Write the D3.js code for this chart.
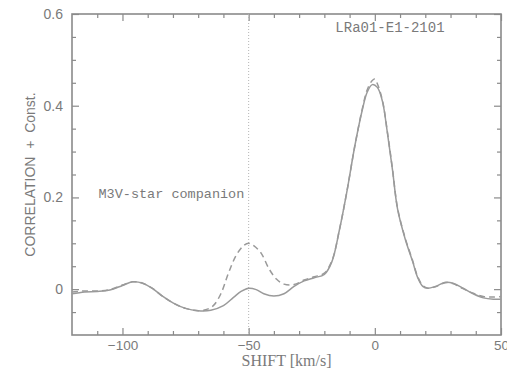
<!DOCTYPE html>
<html>
<head>
<meta charset="utf-8">
<script src="https://cdn.jsdelivr.net/npm/d3@7"></script>
<style>
  body { margin: 0; background: #fff; }
  text { fill: #7a7a7a; }
</style>
</head>
<body>
<svg id="chart" width="507" height="371"></svg>
<script>
// shift values (km/s) and correlation
const shiftSolid = [-120, -115, -110, -105, -100, -96, -92, -88, -84, -80, -75, -70, -65, -60, -56, -53, -50, -47, -44, -40, -36, -32, -28, -24, -20, -17, -14, -11, -8, -5, -3, -1, 1, 3, 5, 7, 9, 12, 15, 17, 19, 21, 24, 28, 31, 35, 39, 43, 47, 50];
const corrSolid = [-0.010, -0.006, -0.005, -0.002, 0.008, 0.016, 0.013, 0.001, -0.016, -0.030, -0.042, -0.047, -0.046, -0.036, -0.018, -0.005, 0.002, -0.001, -0.010, -0.015, -0.010, 0.006, 0.018, 0.025, 0.032, 0.060, 0.130, 0.215, 0.310, 0.390, 0.430, 0.446, 0.440, 0.410, 0.340, 0.260, 0.175, 0.110, 0.060, 0.025, 0.006, 0.002, 0.006, 0.015, 0.013, 0.002, -0.010, -0.019, -0.022, -0.022];

const shiftDashed = [-120, -115, -110, -105, -100, -96, -92, -88, -84, -80, -75, -70, -67, -64, -61, -58, -55, -52, -50, -48, -45, -42, -39, -36, -32, -28, -24, -20, -17, -14, -11, -8, -5, -3, -1, 0, 1, 3, 5, 7, 9, 12, 15, 17, 19, 21, 24, 28, 31, 35, 39, 43, 47, 50];
const corrDashed = [-0.006, -0.004, -0.004, -0.001, 0.009, 0.016, 0.013, 0.001, -0.016, -0.030, -0.042, -0.047, -0.045, -0.036, -0.010, 0.035, 0.073, 0.095, 0.100, 0.095, 0.078, 0.045, 0.022, 0.011, 0.010, 0.020, 0.027, 0.035, 0.062, 0.130, 0.215, 0.310, 0.392, 0.435, 0.455, 0.458, 0.448, 0.412, 0.342, 0.262, 0.177, 0.112, 0.062, 0.027, 0.008, 0.002, 0.005, 0.014, 0.012, 0.001, -0.009, -0.016, -0.017, -0.016];

const xTicks = [-100, -50, 0, 50];
const yTicks = [0, 0.2, 0.4, 0.6];

const svg = d3.select("#chart"),
  margin = { top: 14, right: 6, bottom: 36, left: 72 },
  width = +svg.attr("width") - margin.left - margin.right,
  height = +svg.attr("height") - margin.top - margin.bottom;

const g = svg.append("g").attr("transform", `translate(${margin.left},${margin.top})`);

const x = d3.scaleLinear().domain([-120, 50]).range([0, width]);
const y = d3.scaleLinear().domain([-0.1, 0.6]).range([height, 0]);

const axisColor = "#8a8a8a";

// inward ticks on all four sides
function drawAxis(axis, transform, labels) {
  const a = g.append("g").attr("transform", transform).call(axis);
  a.select(".domain").remove();
  a.selectAll("line").attr("stroke", axisColor).attr("stroke-width", 1.2);
  if (!labels) a.selectAll("text").remove();
  return a;
}

const xMinor = d3.range(-110, 50, 10).filter((d) => !xTicks.includes(d));
const yMinor = d3.range(-0.05, 0.6, 0.05).map((d) => +d.toFixed(2)).filter((d) => !yTicks.includes(d));

const xb = drawAxis(d3.axisBottom(x).tickValues(xTicks).tickSize(-7).tickPadding(5).tickFormat(d3.format("d")), `translate(0,${height})`, true);
drawAxis(d3.axisBottom(x).tickValues(xMinor).tickSize(-4), `translate(0,${height})`, false);
drawAxis(d3.axisTop(x).tickValues(xTicks).tickSize(-7), "translate(0,0)", false);
drawAxis(d3.axisTop(x).tickValues(xMinor).tickSize(-4), "translate(0,0)", false);

const yl = drawAxis(d3.axisLeft(y).tickValues(yTicks).tickSize(-7).tickPadding(9).tickFormat((d) => (d === 0 ? "0" : d3.format(".1f")(d))), "translate(0,0)", true);
drawAxis(d3.axisLeft(y).tickValues(yMinor).tickSize(-4), "translate(0,0)", false);
drawAxis(d3.axisRight(y).tickValues(yTicks).tickSize(-7), `translate(${width},0)`, false);
drawAxis(d3.axisRight(y).tickValues(yMinor).tickSize(-4), `translate(${width},0)`, false);

xb.selectAll("text").attr("font-family", "Liberation Sans, sans-serif").attr("font-size", 13.5).style("fill", "#7a7a7a");
yl.selectAll("text").attr("font-family", "Liberation Sans, sans-serif").attr("font-size", 14).style("fill", "#7a7a7a");

// frame
g.append("rect")
  .attr("width", width)
  .attr("height", height)
  .attr("fill", "none")
  .attr("stroke", axisColor)
  .attr("stroke-width", 1.6);

// dotted marker at the companion shift
g.append("line")
  .attr("x1", x(-50))
  .attr("x2", x(-50))
  .attr("y1", 0)
  .attr("y2", height)
  .attr("stroke", "#b5b5b5")
  .attr("stroke-width", 1)
  .attr("stroke-dasharray", "1,2");

const lineGen = d3.line().x((d) => x(d[0])).y((d) => y(d[1])).curve(d3.curveCatmullRom);

g.append("path")
  .datum(d3.zip(shiftSolid, corrSolid))
  .attr("fill", "none")
  .attr("stroke", "#9a9a9a")
  .attr("stroke-width", 1.5)
  .attr("d", lineGen);

g.append("path")
  .datum(d3.zip(shiftDashed, corrDashed))
  .attr("fill", "none")
  .attr("stroke", "#9a9a9a")
  .attr("stroke-width", 1.5)
  .attr("stroke-dasharray", "6,4")
  .attr("d", lineGen);

// labels
svg.append("text")
  .attr("x", margin.left + width / 2)
  .attr("y", 366)
  .attr("text-anchor", "middle")
  .attr("font-family", "Liberation Serif, serif")
  .attr("font-size", 16)
  .text("SHIFT [km/s]");

svg.append("text")
  .attr("transform", `translate(35,${margin.top + height / 2}) rotate(-90)`)
  .attr("text-anchor", "middle")
  .attr("font-family", "Liberation Sans, sans-serif")
  .attr("font-size", 14)
  .attr("xml:space", "preserve")
  .text("CORRELATION  +  Const.");

g.append("text")
  .attr("x", x(6))
  .attr("y", y(0.56))
  .attr("text-anchor", "middle")
  .attr("font-family", "Liberation Mono, monospace")
  .attr("font-size", 14)
  .text("LRa01-E1-2101");

g.append("text")
  .attr("x", x(-109.5))
  .attr("y", y(0.198))
  .attr("font-family", "Liberation Mono, monospace")
  .attr("font-size", 13.5)
  .text("M3V-star companion");
</script>
</body>
</html>
